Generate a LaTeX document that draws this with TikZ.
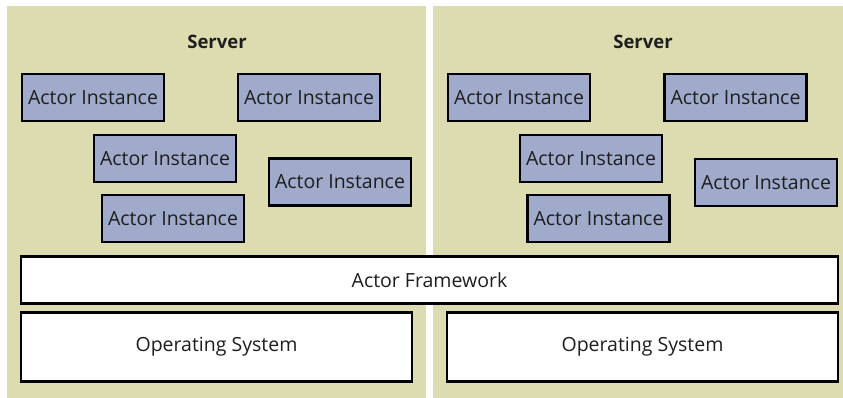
\documentclass[tikz,border=0pt]{standalone}
\usepackage{fontspec}
\setmainfont{Open Sans}
\definecolor{bgkhaki}{RGB}{220,220,176}
\definecolor{actorfill}{RGB}{160,170,202}
\definecolor{txt}{RGB}{30,30,30}
\begin{document}
\begin{tikzpicture}[x=1pt,y=-1pt,
  panel/.style={fill=bgkhaki,draw=none,inner sep=0pt,minimum height=392pt},
  actor/.style={draw=black,line width=2.8pt,fill=actorfill,minimum width=142pt,minimum height=47pt,inner sep=0pt,text=txt,font=\fontsize{19.5}{22}\selectfont},
  layer/.style={draw=black,line width=2.8pt,fill=white,inner sep=0pt,text=txt,font=\fontsize{19.5}{22}\selectfont},
  title/.style={text=txt,font=\fontsize{18.5}{22}\selectfont\bfseries}]
\useasboundingbox (0,0) rectangle (843,398);
\fill[white] (0,0) rectangle (843,398);
\node[panel,minimum width=419pt] (panelL) at (216.5,202) {};
\node[panel,minimum width=410pt] (panelR) at (638,202) {};
\node[title] (srvL) at (217,42) {Server};
\node[title] (srvR) at (643,42) {Server};
% left actors
\node[actor] (a1) at (93,97.5) {Actor Instance};
\node[actor] (a2) at (309,97.5) {Actor Instance};
\node[actor] (a3) at (165,158.5) {Actor Instance};
\node[actor] (a4) at (340,182) {Actor Instance};
\node[actor] (a5) at (173,218.5) {Actor Instance};
% right actors
\node[actor] (b1) at (519,97.5) {Actor Instance};
\node[actor] (b2) at (735.5,97.5) {Actor Instance};
\node[actor] (b3) at (591,158.5) {Actor Instance};
\node[actor] (b4) at (766,182.5) {Actor Instance};
\node[actor] (b5) at (598.5,218.5) {Actor Instance};
% layers
\node[layer,minimum width=817pt,minimum height=47pt] (fw) at (429.5,280) {Actor Framework};
\node[layer,minimum width=391pt,minimum height=69pt] (osL) at (216.5,347) {Operating System};
\node[layer,minimum width=391pt,minimum height=69pt] (osR) at (642.5,347) {Operating System};
\end{tikzpicture}
\end{document}
